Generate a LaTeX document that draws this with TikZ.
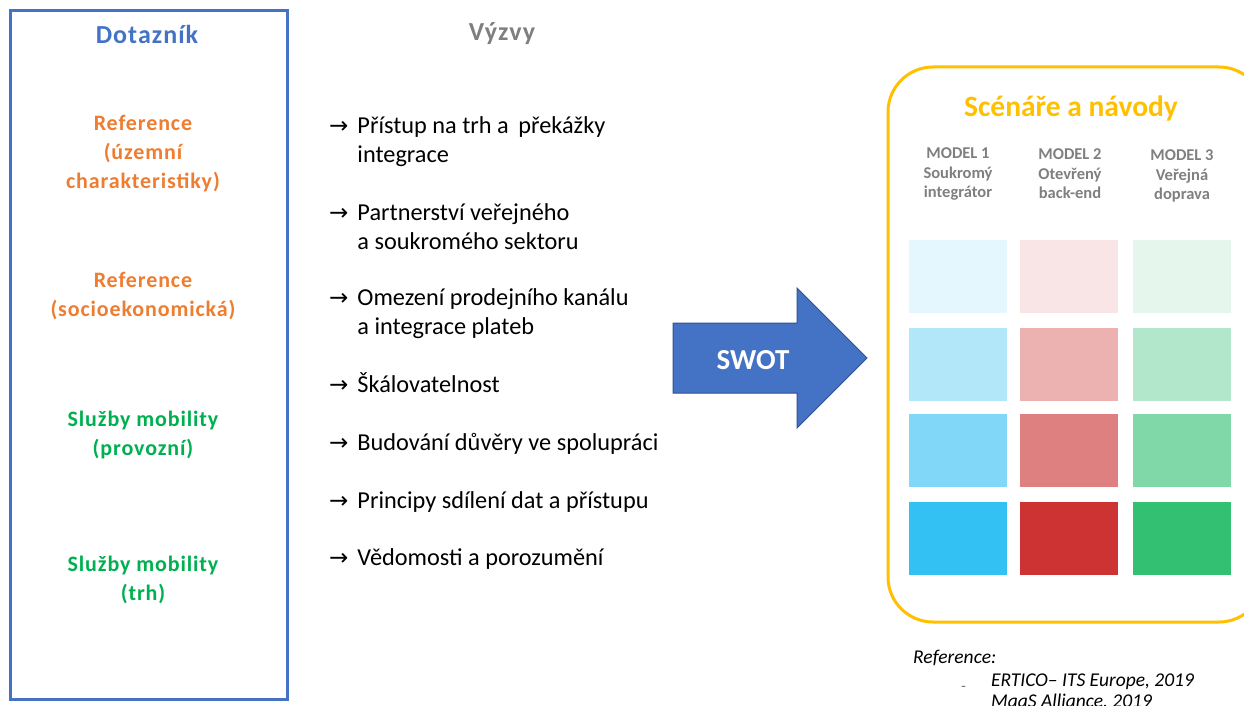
\documentclass[tikz,border=0pt]{standalone}
\usepackage{fontspec}
\setmainfont{Carlito}
\newfontfamily\widefont[LetterSpace=4]{Carlito}
\newfontfamily\arrowfont{DejaVu Sans}
\usetikzlibrary{positioning}

\definecolor{qblue}{HTML}{4472C4}
\definecolor{qedge}{HTML}{2F528F}
\definecolor{qorange}{HTML}{ED7D31}
\definecolor{qgreen}{HTML}{00B050}
\definecolor{qyellow}{HTML}{FFC000}
\definecolor{qgray}{HTML}{7F7F7F}
\definecolor{mcyan}{HTML}{00B0F0}
\definecolor{mred}{HTML}{C00000}
\definecolor{mgreen}{HTML}{00B050}

\newcommand{\fsz}[2]{\fontsize{#1}{#2}\selectfont}
\newcommand{\chal}[1]{{\arrowfont\fsz{23}{29}→}\hspace{9pt}\begin{tabular}[t]{@{}l@{}}#1\end{tabular}}

\begin{document}
\begin{tikzpicture}[x=1pt, y=-1pt,
    head/.style={font=\widefont\bfseries\fsz{26}{29}},
    quest/.style={align=center, inner sep=0pt, font=\widefont\bfseries\fsz{22}{29}},
    challenge/.style={anchor=base west, inner sep=0pt, font=\fsz{24.3}{29}},
    model/.style={align=center, inner sep=0pt, text=qgray, font=\bfseries\fsz{16.5}{19.5}},
    cell/.style={minimum width=98pt, minimum height=73pt, inner sep=0pt},
    note/.style={anchor=base west, inner sep=0pt, font=\itshape\fsz{19.5}{22}}]
  \useasboundingbox (0,0) rectangle (1244,706);

  % questionnaire column
  \draw[qblue, line width=3pt] (10,11) rectangle (287,699);
  \node[head, text=qblue] (dotaznik) at (147,34) {Dotazník};
  \node[quest, text=qorange] (ref1) at (143,154) {Reference\\(územní\\charakteristiky)};
  \node[quest, text=qorange] (ref2) at (143,296) {Reference\\(socioekonomická)};
  \node[quest, text=qgreen] (mob1) at (143,435) {Služby mobility\\(provozní)};
  \node[quest, text=qgreen] (mob2) at (143,580) {Služby mobility\\(trh)};

  % challenges
  \node[head, text=qgray] (vyzvy) at (502,34) {Výzvy};
  \node[challenge] (ch1) at (329,133) {\chal{Přístup na trh a\, překážky\\integrace}};
  \node[challenge] (ch2) at (329,220) {\chal{Partnerství veřejného\\a soukromého sektoru}};
  \node[challenge] (ch3) at (329,305) {\chal{Omezení prodejního kanálu\\a integrace plateb}};
  \node[challenge] (ch4) at (329,392) {\chal{Škálovatelnost}};
  \node[challenge] (ch5) at (329,450) {\chal{Budování důvěry ve spolupráci}};
  \node[challenge] (ch6) at (329,508) {\chal{Principy sdílení dat a přístupu}};
  \node[challenge] (ch7) at (329,565) {\chal{Vědomosti a porozumění}};

  % SWOT arrow
  \filldraw[fill=qblue, draw=qedge, line width=1pt]
    (673,323) -- (797,323) -- (797,288) -- (867,358) -- (797,428) -- (797,393) -- (673,393) -- cycle;
  \node[text=white, font=\bfseries\fsz{29}{30}] (swot) at (753,360) {SWOT};

  % scenarios
  \draw[qyellow, line width=3pt, rounded corners=45pt] (888,67) rectangle (1264,622);
  \node[text=qyellow, font=\bfseries\fsz{29.5}{32}] (scen) at (1071,108) {Scénáře a návody};
  \node[model] (m1) at (958,174) {MODEL 1\\Soukromý\\integrátor};
  \node[model] (m2) at (1070,174) {MODEL 2\\Otevřený\\back-end};
  \node[model] (m3) at (1182,176) {MODEL 3\\Veřejná\\doprava};
  \foreach \c/\x/\base in {1/958/mcyan, 2/1069/mred, 3/1182/mgreen}
    \foreach \r/\y/\tint in {1/276.5/10, 2/364/30, 3/450.5/50, 4/538/80}
      \node[cell, fill=\base!\tint!white] (cell\c\r) at (\x,\y) {};

  % sources
  \node[note] (srchead) at (913,663) {Reference:};
  \node[note, font=\fsz{10}{12}] (dash) at (961,689) {–};
  \node[note] (src1) at (991,686) {ERTICO– ITS Europe, 2019};
  \node[note] (src2) at (991,707) {MaaS Alliance, 2019};
\end{tikzpicture}
\end{document}
